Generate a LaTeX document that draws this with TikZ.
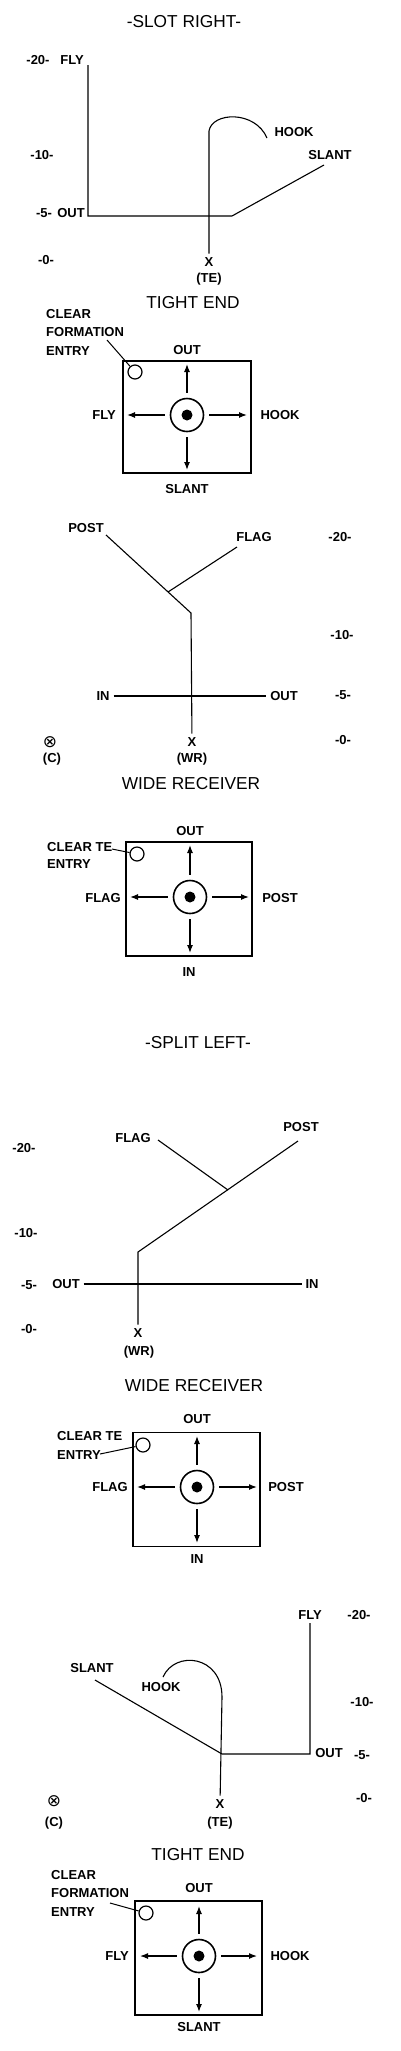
\documentclass[tikz,border=0pt]{standalone}
\usepackage{fontspec}
\setmainfont{Liberation Sans}
\newfontfamily\dejavu{DejaVu Sans}
\usetikzlibrary{arrows.meta}

\begin{document}
\begin{tikzpicture}[
    x=1pt, y=-1pt,
    every node/.style={inner sep=0pt},
    ttl/.style={font=\fontsize{17.3}{20}\selectfont},
    lbl/.style={font=\bfseries\fontsize{13}{15}\selectfont, outer sep=4pt},
    note/.style={font=\bfseries\fontsize{13}{18.5}\selectfont, align=left, anchor=west},
    ctr/.style={font=\dejavu\fontsize{17}{19}\selectfont},
    route/.style={line width=1.1pt},
    field/.style={draw, line width=1.3pt, minimum width=127pt, minimum height=114pt},
    target/.style={circle, draw, line width=1.6pt, minimum size=33pt},
    spot/.style={circle, draw, line width=1.2pt, minimum size=14pt},
    move/.style={-{Latex[length=8pt,width=6pt]}, line width=1.2pt, shorten <=5pt}
]
    \useasboundingbox (0,0) rectangle (400,2051);

    % slot right: tight end routes
    \node[ttl] (slot) at (184,22) {-SLOT RIGHT-};
    \node[lbl] (yd20a) at (38,60) {-20-};
    \node[lbl] (fly1) at (72,60) {FLY};
    \node[lbl] (yd10a) at (42,155) {-10-};
    \node[lbl] (yd5a) at (44,213) {-5-};
    \node[lbl] (out1) at (71,213) {OUT};
    \node[lbl] (yd0a) at (46,260) {-0-};
    \node[lbl] (hook1) at (294,132) {HOOK};
    \node[lbl] (slant1) at (330,155) {SLANT};
    \node[lbl] (te1) at (209,262) {X};
    \node[lbl] (te1n) at (209,279) {(TE)};
    \coordinate (fly1t) at (88,65);
    \coordinate (out1c) at (88,216);
    \coordinate (slant1b) at (232,216);
    \coordinate (slant1t) at (324,165);
    \coordinate (hook1b) at (209,131);
    \coordinate (hook1t) at (267,138);
    \draw[route] (fly1t) -- (out1c) -- (slant1b) -- (slant1t);
    \draw[route] (te1) -- (hook1b) .. controls (212,112) and (255,110) .. (hook1t);

    % tight end box
    \node[ttl] (tight1) at (193,303) {TIGHT END};
    \node[note] (clear1) at (46,332) {CLEAR\\FORMATION\\ENTRY};
    \node[field, minimum width=128pt, minimum height=112pt] (box1) at (187,417) {};
    \node[spot] (entry1) at (135,372) {};
    \node[target] (c1) at (187,415) {};
    \fill (c1) circle (5.5pt);
    \coordinate (clear1t) at (107,340);
    \draw[line width=1pt] (clear1t) -- (entry1);
    \coordinate (c1n) at (187,364);
    \coordinate (c1w) at (127,415);
    \coordinate (c1e) at (247,415);
    \coordinate (c1s) at (187,470);
    \draw[move] (c1) -- (c1n);
    \draw[move] (c1) -- (c1w);
    \draw[move] (c1) -- (c1e);
    \draw[move] (c1) -- (c1s);
    \node[lbl] (b1out) at (187,350) {OUT};
    \node[lbl] (b1fly) at (104,415) {FLY};
    \node[lbl] (b1hook) at (280,415) {HOOK};
    \node[lbl] (b1slant) at (187,489) {SLANT};

    % wide receiver routes
    \node[lbl] (post2) at (86,528) {POST};
    \node[lbl] (flag2) at (254,537) {FLAG};
    \node[lbl] (yd20b) at (340,537) {-20-};
    \node[lbl] (yd10b) at (342,635) {-10-};
    \node[lbl] (yd5b) at (343,695) {-5-};
    \node[lbl] (yd0b) at (343,740) {-0-};
    \node[lbl] (in2) at (103,696) {IN};
    \node[lbl] (out2) at (284,696) {OUT};
    \node[lbl] (wr2) at (192,742) {X};
    \node[lbl] (wr2n) at (192,759) {(WR)};
    \node[ctr] (cen2) at (50,742) {⊗};
    \node[lbl] (cen2n) at (52,759) {(C)};
    \coordinate (post2b) at (191,613);
    \coordinate (post2t) at (106,535);
    \coordinate (flag2b) at (168,592);
    \coordinate (flag2t) at (237,547);
    \draw[route] (wr2) -- (post2b) -- (post2t);
    \draw[route] (flag2b) -- (flag2t);
    \draw[route] (in2) -- (out2);

    % wide receiver box
    \node[ttl] (wide2) at (191,784) {WIDE RECEIVER};
    \node[note, font=\bfseries\fontsize{13}{17}\selectfont] (clear2) at (47,855) {CLEAR TE\\ENTRY};
    \node[field, minimum width=126pt, minimum height=114pt] (box2) at (189,899) {};
    \node[spot] (entry2) at (137,854) {};
    \node[target] (c2) at (190,897) {};
    \fill (c2) circle (5.5pt);
    \coordinate (clear2t) at (112,849);
    \draw[line width=1pt] (clear2t) -- (entry2);
    \coordinate (c2n) at (190,845);
    \coordinate (c2w) at (130,897);
    \coordinate (c2e) at (249,897);
    \coordinate (c2s) at (190,953);
    \draw[move] (c2) -- (c2n);
    \draw[move] (c2) -- (c2w);
    \draw[move] (c2) -- (c2e);
    \draw[move] (c2) -- (c2s);
    \node[lbl] (b2out) at (190,831) {OUT};
    \node[lbl] (b2flag) at (103,898) {FLAG};
    \node[lbl] (b2post) at (280,898) {POST};
    \node[lbl] (b2in) at (189,972) {IN};

    % split left: wide receiver routes
    \node[ttl] (split) at (198,1043) {-SPLIT LEFT-};
    \node[lbl] (flag3) at (133,1138) {FLAG};
    \node[lbl] (post3) at (301,1127) {POST};
    \node[lbl] (yd20c) at (24,1148) {-20-};
    \node[lbl] (yd10c) at (26,1233) {-10-};
    \node[lbl] (yd5c) at (29,1285) {-5-};
    \node[lbl] (yd0c) at (29,1329) {-0-};
    \node[lbl] (out3) at (66,1284) {OUT};
    \node[lbl] (in3) at (312,1284) {IN};
    \node[lbl] (wr3) at (138,1333) {X};
    \node[lbl] (wr3n) at (139,1352) {(WR)};
    \coordinate (post3b) at (138,1252);
    \coordinate (post3t) at (298,1141);
    \coordinate (flag3b) at (228,1190);
    \coordinate (flag3t) at (158,1140);
    \draw[route] (wr3) -- (post3b) -- (post3t);
    \draw[route] (flag3b) -- (flag3t);
    \draw[route] (out3) -- (in3);

    % wide receiver box
    \node[ttl] (wide3) at (194,1386) {WIDE RECEIVER};
    \node[note, font=\bfseries\fontsize{13}{19}\selectfont] (clear3) at (57,1445) {CLEAR TE\\ENTRY};
    \node[field] (box3) at (196.5,1489.5) {};
    \node[spot] (entry3) at (143,1445) {};
    \node[target] (c3) at (197,1487) {};
    \fill (c3) circle (5.5pt);
    \coordinate (clear3t) at (100,1454);
    \draw[line width=1pt] (clear3t) -- (entry3);
    \coordinate (c3n) at (197,1436);
    \coordinate (c3w) at (137,1487);
    \coordinate (c3e) at (257,1487);
    \coordinate (c3s) at (197,1543);
    \draw[move] (c3) -- (c3n);
    \draw[move] (c3) -- (c3w);
    \draw[move] (c3) -- (c3e);
    \draw[move] (c3) -- (c3s);
    \node[lbl] (b3out) at (197,1419) {OUT};
    \node[lbl] (b3flag) at (110,1487) {FLAG};
    \node[lbl] (b3post) at (286,1487) {POST};
    \node[lbl] (b3in) at (197,1559) {IN};

    % tight end routes
    \node[lbl] (fly4) at (310,1615) {FLY};
    \node[lbl] (yd20d) at (359,1615) {-20-};
    \node[lbl] (yd10d) at (362,1702) {-10-};
    \node[lbl] (yd5d) at (362,1755) {-5-};
    \node[lbl] (yd0d) at (364,1798) {-0-};
    \node[lbl] (out4) at (329,1753) {OUT};
    \node[lbl] (hook4) at (161,1687) {HOOK};
    \node[lbl] (slant4) at (92,1668) {SLANT};
    \node[lbl] (te4) at (220,1804) {X};
    \node[lbl] (te4n) at (220,1823) {(TE)};
    \node[ctr] (cen4) at (54,1801) {⊗};
    \node[lbl] (cen4n) at (54,1823) {(C)};
    \coordinate (fly4t) at (310,1623);
    \coordinate (out4c) at (310,1754);
    \coordinate (slant4b) at (222,1754);
    \coordinate (slant4t) at (95,1680);
    \coordinate (hook4b) at (222,1697);
    \coordinate (hook4t) at (163,1677);
    \draw[route] (fly4t) -- (out4c) -- (slant4b) -- (slant4t);
    \draw[route] (te4) -- (hook4b) .. controls (222,1655) and (175,1650) .. (hook4t);

    % tight end box
    \node[ttl] (tight4) at (198,1855) {TIGHT END};
    \node[note] (clear4) at (51,1893) {CLEAR\\FORMATION\\ENTRY};
    \node[field] (box4) at (198.5,1958) {};
    \node[spot] (entry4) at (146,1913) {};
    \node[target] (c4) at (199,1956) {};
    \fill (c4) circle (5.5pt);
    \coordinate (clear4t) at (110,1903);
    \draw[line width=1pt] (clear4t) -- (entry4);
    \coordinate (c4n) at (199,1906);
    \coordinate (c4w) at (140,1956);
    \coordinate (c4e) at (257,1956);
    \coordinate (c4s) at (199,2012);
    \draw[move] (c4) -- (c4n);
    \draw[move] (c4) -- (c4w);
    \draw[move] (c4) -- (c4e);
    \draw[move] (c4) -- (c4s);
    \node[lbl] (b4out) at (199,1888) {OUT};
    \node[lbl] (b4fly) at (117,1956) {FLY};
    \node[lbl] (b4hook) at (290,1956) {HOOK};
    \node[lbl] (b4slant) at (199,2027) {SLANT};
\end{tikzpicture}
\end{document}
